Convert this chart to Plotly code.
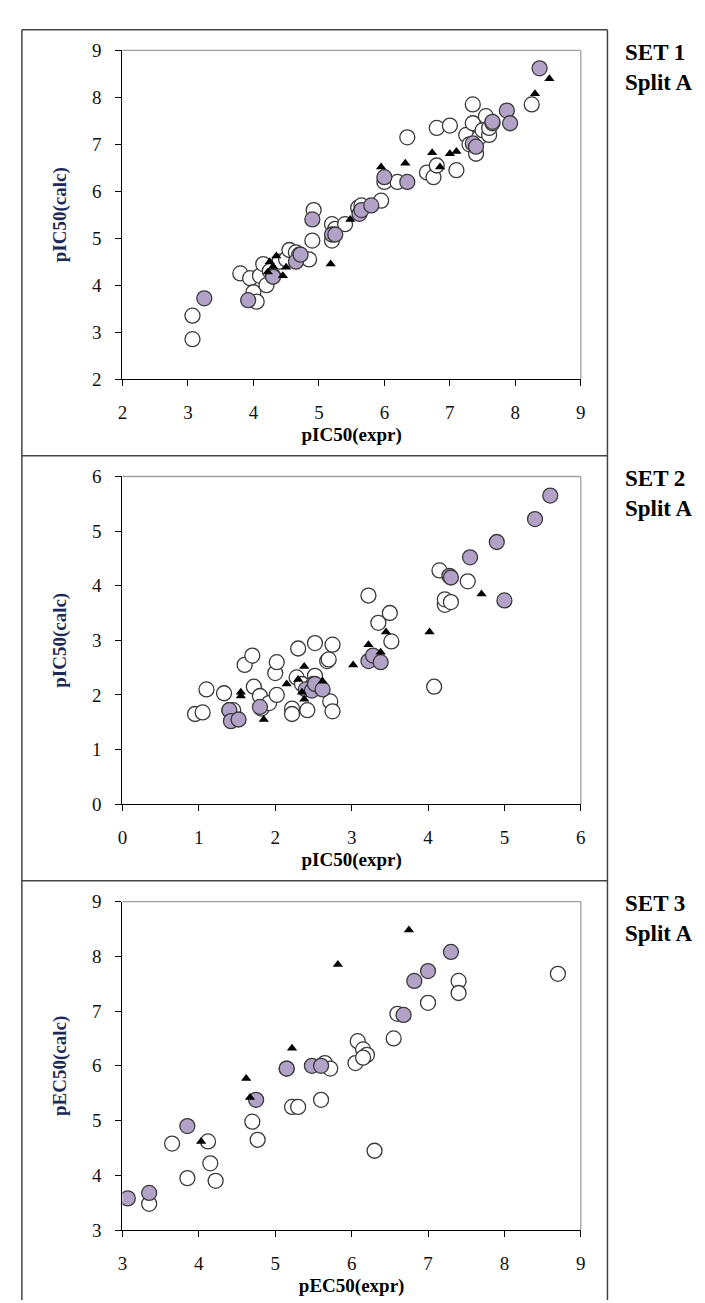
import plotly.graph_objects as go

# ---------------- DATA ----------------
# SET 1
s1_open_x = [3.07, 3.07, 3.80, 3.95, 4.00, 4.05, 4.10, 4.15, 4.20, 4.25, 4.30, 4.40, 4.50, 4.55, 4.65, 4.70,
             4.85, 4.90, 4.92, 5.20, 5.20, 5.25, 5.40, 5.60, 5.65, 5.95, 6.00, 6.20, 6.35, 6.65, 6.75, 6.80,
             6.80, 7.00, 7.10, 7.25, 7.30, 7.35, 7.35, 7.40, 7.45, 7.50, 7.55, 7.60, 7.60, 7.65, 8.25]
s1_open_y = [3.35, 2.85, 4.25, 4.15, 3.85, 3.65, 4.20, 4.45, 4.00, 4.30, 4.20, 4.50, 4.55, 4.75, 4.70, 4.65,
             4.55, 4.95, 5.60, 4.95, 5.30, 5.20, 5.30, 5.65, 5.70, 5.80, 6.20, 6.20, 7.15, 6.40, 6.30, 7.35,
             6.55, 7.40, 6.45, 7.20, 7.00, 7.45, 7.85, 6.80, 7.15, 7.30, 7.60, 7.20, 7.35, 7.45, 7.85]
s1_test_x = [3.25, 3.92, 4.30, 4.65, 4.72, 4.90, 5.20, 5.25, 5.62, 5.65, 5.80, 6.00, 6.35, 7.35, 7.40, 7.65,
             7.87, 7.92, 8.37]
s1_test_y = [3.72, 3.68, 4.18, 4.50, 4.65, 5.40, 5.08, 5.08, 5.52, 5.60, 5.70, 6.30, 6.20, 7.02, 6.95, 7.48,
             7.72, 7.45, 8.62]
s1_tri_x = [4.22, 4.25, 4.35, 4.30, 4.45, 4.50, 5.18, 5.48, 5.95, 6.32, 6.73, 6.85, 7.00, 7.10, 8.30, 8.52]
s1_tri_y = [4.28, 4.50, 4.62, 4.40, 4.20, 4.38, 4.45, 5.40, 6.52, 6.60, 6.82, 6.52, 6.80, 6.85, 8.08, 8.40]

# SET 2
s2_open_x = [0.95, 1.05, 1.10, 1.33, 1.40, 1.45, 1.60, 1.70, 1.72, 1.80, 1.82, 1.92, 2.00, 2.02, 2.02, 2.22,
             2.22, 2.28, 2.30, 2.35, 2.42, 2.52, 2.52, 2.50, 2.68, 2.70, 2.72, 2.75, 2.75, 3.22, 3.35, 3.50,
             3.52, 4.08, 4.15, 4.22, 4.22, 4.30, 4.52]
s2_open_y = [1.65, 1.68, 2.10, 2.03, 1.72, 1.72, 2.55, 2.72, 2.15, 1.98, 1.75, 1.85, 2.40, 2.60, 2.00, 1.75,
             1.65, 2.32, 2.85, 2.20, 1.72, 2.95, 2.35, 2.20, 2.62, 2.65, 1.88, 2.92, 1.70, 3.82, 3.32, 3.50,
             2.98, 2.15, 4.28, 3.65, 3.75, 3.70, 4.08]
s2_test_x = [1.40, 1.42, 1.52, 1.80, 2.40, 2.48, 2.52, 2.62, 3.22, 3.28, 3.38, 4.28, 4.30, 4.55, 4.90, 5.00,
             5.40, 5.60]
s2_test_y = [1.72, 1.52, 1.55, 1.78, 2.10, 2.08, 2.20, 2.10, 2.62, 2.72, 2.60, 4.18, 4.15, 4.52, 4.80, 3.73,
             5.22, 5.65]
s2_tri_x = [1.55, 1.55, 1.85, 2.15, 2.30, 2.38, 2.38, 2.62, 2.35, 3.02, 3.22, 3.38, 3.45, 4.02, 4.70]
s2_tri_y = [1.98, 2.05, 1.55, 2.20, 2.28, 2.52, 1.92, 2.25, 2.05, 2.55, 2.92, 2.78, 3.15, 3.15, 3.85]

# SET 3
s3_open_x = [3.35, 3.65, 3.85, 4.12, 4.15, 4.22, 4.70, 4.77, 5.15, 5.22, 5.30, 5.60, 5.65, 5.72, 6.05, 6.08,
             6.15, 6.20, 6.15, 6.30, 6.55, 6.60, 7.00, 7.40, 7.40, 8.70]
s3_open_y = [3.48, 4.58, 3.95, 4.62, 4.22, 3.90, 4.98, 4.65, 5.95, 5.25, 5.25, 5.38, 6.05, 5.95, 6.05, 6.45,
             6.30, 6.20, 6.15, 4.45, 6.50, 6.95, 7.15, 7.55, 7.33, 7.68]
s3_test_x = [3.07, 3.35, 3.85, 4.75, 5.15, 5.48, 5.60, 6.68, 6.82, 7.00, 7.30]
s3_test_y = [3.58, 3.68, 4.90, 5.38, 5.95, 6.00, 6.00, 6.93, 7.55, 7.73, 8.08]
s3_tri_x = [4.03, 4.62, 4.67, 5.22, 5.82, 6.75]
s3_tri_y = [4.62, 5.77, 5.42, 6.32, 7.85, 8.48]

set_labels = ["SET 1<br>Split A", "SET 2<br>Split A", "SET 3<br>Split A"]
x_titles = ["pIC50(expr)", "pIC50(expr)", "pEC50(expr)"]
y_titles = ["pIC50(calc)", "pIC50(calc)", "pEC50(calc)"]
ranges = [(2, 9), (0, 6), (3, 9)]

# ---------------- LAYOUT GEOMETRY ----------------
W, H = 705, 1303
px_left, px_right = 111, 576
plot_px = [(33, 367), (466, 799), (898, 1232)]   # top, bottom pixel rows of each plot area
frame_px = [12, 445, 877, 1303]
frame_left, frame_right = 9, 603

FONT = "Liberation Serif, Times New Roman, serif"
PURPLE = "#B3A2C7"
EDGE = "#3a3a3a"

fig = go.Figure()

sets = [
    (s1_open_x, s1_open_y, s1_test_x, s1_test_y, s1_tri_x, s1_tri_y),
    (s2_open_x, s2_open_y, s2_test_x, s2_test_y, s2_tri_x, s2_tri_y),
    (s3_open_x, s3_open_y, s3_test_x, s3_test_y, s3_tri_x, s3_tri_y),
]

def fy(p):
    return 1 - p / H

def fx(p):
    return p / W

for i, (ox, oy, tx, ty, rx, ry) in enumerate(sets):
    xa = "x" if i == 0 else f"x{i+1}"
    ya = "y" if i == 0 else f"y{i+1}"
    fig.add_trace(go.Scatter(x=ox, y=oy, mode="markers", xaxis=xa, yaxis=ya, showlegend=False,
                             marker=dict(symbol="circle", size=15, color="white",
                                         line=dict(color=EDGE, width=1.3))))
    fig.add_trace(go.Scatter(x=tx, y=ty, mode="markers", xaxis=xa, yaxis=ya, showlegend=False,
                             marker=dict(symbol="circle", size=15, color=PURPLE,
                                         line=dict(color=EDGE, width=1.3))))
    fig.add_trace(go.Scatter(x=rx, y=ry, mode="markers", xaxis=xa, yaxis=ya, showlegend=False,
                             marker=dict(symbol="triangle-up", size=9, color="black",
                                         line=dict(width=0))))

    top, bot = plot_px[i]
    lo, hi = ranges[i]
    axis_common = dict(showgrid=False, zeroline=False, showline=True, linecolor="black", linewidth=1.3,
                       ticks="outside", ticklen=6, tickwidth=1.3, tickcolor="black", dtick=1,
                       tickfont=dict(family=FONT, size=19, color="#111"), ticklabelstandoff=10)
    fig.update_layout(**{
        ("xaxis" if i == 0 else f"xaxis{i+1}"): dict(
            axis_common, range=[lo, hi], domain=[fx(px_left), fx(px_right)],
            anchor=ya, tick0=lo,
            title=dict(text=f"<b>{x_titles[i]}</b>", standoff=5,
                       font=dict(family=FONT, size=19, color="black"))),
        ("yaxis" if i == 0 else f"yaxis{i+1}"): dict(
            axis_common, range=[lo, hi], domain=[fy(bot), fy(top)],
            anchor=xa, tick0=lo,
            title=dict(text=f"<b>{y_titles[i]}</b>", standoff=20,
                       font=dict(family=FONT, size=19, color="#1d2a57"))),
    })
    # gray top and right border of the plot area
    fig.add_shape(type="line", xref="paper", yref="paper",
                  x0=fx(px_left), x1=fx(px_right), y0=fy(top), y1=fy(top),
                  line=dict(color="#a0a0a0", width=1.3))
    fig.add_shape(type="line", xref="paper", yref="paper",
                  x0=fx(px_right), x1=fx(px_right), y0=fy(top), y1=fy(bot),
                  line=dict(color="#a0a0a0", width=1.3))
    # right-side label
    fig.add_annotation(xref="paper", yref="paper", x=fx(619), y=fy(frame_px[i] + 8),
                       xanchor="left", yanchor="top", showarrow=False, align="left",
                       text=f"<b>{set_labels[i]}</b>",
                       font=dict(family=FONT, size=23, color="black"))

# panel frames
for yp in frame_px[:3]:
    fig.add_shape(type="line", xref="paper", yref="paper",
                  x0=fx(frame_left), x1=fx(frame_right), y0=fy(yp), y1=fy(yp),
                  line=dict(color="#444", width=1.5))
for xp in (frame_left, frame_right):
    fig.add_shape(type="line", xref="paper", yref="paper",
                  x0=fx(xp), x1=fx(xp), y0=fy(frame_px[0]), y1=0,
                  line=dict(color="#444", width=1.5))

fig.update_layout(width=W, height=H, margin=dict(l=0, r=0, t=0, b=0),
                  paper_bgcolor="white", plot_bgcolor="white",
                  font=dict(family=FONT))

fig.write_html("out.html")
